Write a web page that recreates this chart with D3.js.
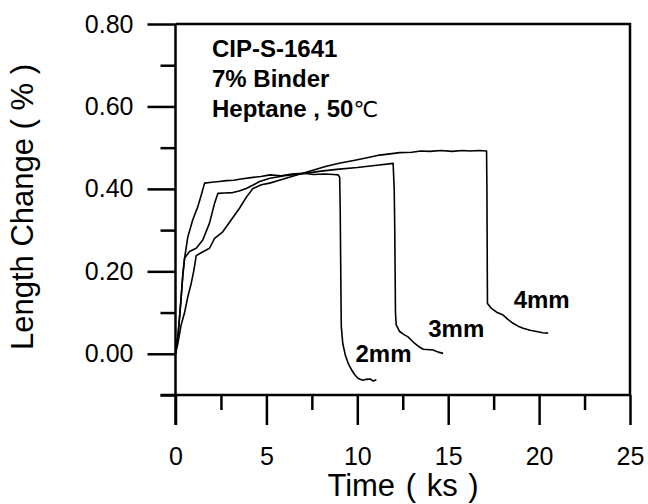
<!DOCTYPE html>
<html>
<head>
<meta charset="utf-8">
<script src="https://cdn.jsdelivr.net/npm/d3@7"></script>
<style>
  html, body { margin: 0; padding: 0; background: #fff; }
  svg { display: block; }
</style>
</head>
<body>
<script>
// ---- data ----
const seriesNames = ["2mm", "3mm", "4mm"];
const time2mm = [0,0.15,0.3,0.4,0.5,0.68,0.95,1.23,1.45,1.6,2.0,2.42,2.8,3.2,3.6,4.26,4.7,5.2,5.8,6.4,7.0,7.6,8.2,8.7,8.95,9.03,9.06,9.08,9.1,9.12,9.2,9.35,9.5,9.7,9.86,10.05,10.3,10.5,10.7,10.87,11.05];
const value2mm = [0,0.05,0.13,0.19,0.232,0.284,0.325,0.357,0.39,0.414,0.416,0.418,0.42,0.421,0.424,0.428,0.43,0.434,0.432,0.436,0.438,0.435,0.436,0.435,0.434,0.428,0.35,0.25,0.15,0.066,0.025,-0.005,-0.023,-0.04,-0.051,-0.06,-0.064,-0.062,-0.061,-0.066,-0.063];
const time3mm = [0,0.15,0.3,0.4,0.5,0.77,1.14,1.5,1.87,2.15,2.33,2.7,3.15,3.5,3.89,4.3,4.63,5.2,6.0,7.0,8.0,9.0,10.0,11.2,11.97,12.03,12.06,12.08,12.1,12.14,12.33,12.55,12.79,13.16,13.4,13.62,14.17,14.45,14.72];
const value3mm = [0,0.05,0.13,0.19,0.232,0.248,0.256,0.276,0.317,0.365,0.389,0.39,0.391,0.395,0.401,0.41,0.418,0.426,0.432,0.437,0.443,0.448,0.452,0.458,0.462,0.4,0.3,0.2,0.1,0.07,0.054,0.047,0.041,0.025,0.017,0.011,0.009,0.004,0.001];
const time4mm = [0,0.13,0.31,0.5,0.68,0.86,1.0,1.14,1.41,1.87,2.15,2.6,3.07,3.52,3.9,4.26,4.72,5.18,5.8,6.4,7.0,7.6,8.3,9.0,9.94,10.6,11.23,11.8,12.33,13.0,13.5,14.0,14.6,15.2,15.8,16.2,16.7,17.11,17.13,17.14,17.15,17.16,17.38,17.7,18.02,18.3,18.57,18.85,19.12,19.5,19.86,20.2,20.5];
const value4mm = [0,0.025,0.07,0.1,0.139,0.17,0.2,0.238,0.245,0.256,0.28,0.296,0.325,0.353,0.38,0.401,0.41,0.414,0.422,0.43,0.438,0.446,0.455,0.462,0.47,0.476,0.482,0.485,0.488,0.489,0.492,0.491,0.493,0.491,0.493,0.492,0.493,0.492,0.4,0.3,0.2,0.122,0.11,0.1,0.094,0.083,0.074,0.067,0.062,0.057,0.054,0.051,0.05];
const labelPos = [[9.9, -0.02], [13.9, 0.04], [18.6, 0.11]]; // label anchor (time, value) for 2mm, 3mm, 4mm
const xTicks = [0, 5, 10, 15, 20, 25];
const xMinorTicks = [2.5, 7.5, 12.5, 17.5, 22.5];
const yTicks = [0.00, 0.20, 0.40, 0.60, 0.80];
const yMinorTicks = [-0.10, 0.10, 0.30, 0.50, 0.70];
const infoLines = ["CIP-S-1641", "7% Binder", "Heptane , 50"];
const xTitle = "Time ( ks )";
const yTitle = "Length Change ( % )";

// ---- chart ----
const W = 648, H = 504;
const mLeft = 175.5, mRight = 630, mTop = 24, mBottom = 395;
const svg = d3.select("body").append("svg").attr("width", W).attr("height", H);
const font = "'Liberation Sans', Arial, Helvetica, sans-serif";

const x = d3.scaleLinear().domain([0, 25]).range([mLeft, mRight]);
const y = d3.scaleLinear().domain([-0.10, 0.80]).range([mBottom, mTop]);

// frame (top + right)
svg.append("path")
  .attr("d", `M${mLeft},${mTop}H${mRight}V${mBottom}`)
  .attr("fill", "none").attr("stroke", "#000").attr("stroke-width", 2.5);

// x axis
const xAxis = d3.axisBottom(x).tickValues(xTicks).tickSize(30).tickPadding(22)
  .tickFormat(d3.format("d"));
const gx = svg.append("g").attr("transform", `translate(0,${mBottom})`).call(xAxis);
gx.select(".domain").attr("stroke-width", 2.5).attr("d", `M${mLeft - 15},0H${mRight}`);
gx.selectAll(".tick line").attr("stroke-width", 2.5);
gx.selectAll(".tick text").attr("font-family", font).attr("font-size", 25).attr("fill", "#000");
const gxm = svg.append("g").attr("transform", `translate(0,${mBottom})`)
  .call(d3.axisBottom(x).tickValues(xMinorTicks).tickSize(15).tickFormat(""));
gxm.select(".domain").remove();
gxm.selectAll(".tick line").attr("stroke-width", 2.5);

// y axis
const yAxis = d3.axisLeft(y).tickValues(yTicks).tickSize(28).tickPadding(14)
  .tickFormat(d3.format(".2f"));
const gy = svg.append("g").attr("transform", `translate(${mLeft},0)`).call(yAxis);
gy.select(".domain").attr("stroke-width", 2.5).attr("d", `M0,${mTop}V${mBottom + 30}`);
gy.selectAll(".tick line").attr("stroke-width", 2.5);
gy.selectAll(".tick text").attr("font-family", font).attr("font-size", 25).attr("fill", "#000");
const gym = svg.append("g").attr("transform", `translate(${mLeft},0)`)
  .call(d3.axisLeft(y).tickValues(yMinorTicks).tickSize(15).tickFormat(""));
gym.select(".domain").remove();
gym.selectAll(".tick line").attr("stroke-width", 2.5);

// axis titles
svg.append("text").attr("x", 403).attr("y", 496)
  .attr("text-anchor", "middle").attr("font-family", font).attr("font-size", 31)
  .attr("word-spacing", 2)
  .text(xTitle);
svg.append("text").attr("transform", `translate(33,207) rotate(-90)`)
  .attr("text-anchor", "middle").attr("font-family", font).attr("font-size", 31)
  .text(yTitle);

// curves
const series = [
  time2mm.map((t, i) => [t, value2mm[i]]),
  time3mm.map((t, i) => [t, value3mm[i]]),
  time4mm.map((t, i) => [t, value4mm[i]])
];
const line = d3.line().x(d => x(d[0])).y(d => y(d[1]));
svg.append("g").selectAll("path").data(series).join("path")
  .attr("d", line).attr("fill", "none").attr("stroke", "#000")
  .attr("stroke-width", 1.6).attr("stroke-linejoin", "round");

// series labels
svg.append("g").selectAll("text").data(seriesNames).join("text")
  .attr("x", (d, i) => x(labelPos[i][0])).attr("y", (d, i) => y(labelPos[i][1]))
  .attr("font-family", font).attr("font-size", 24).attr("font-weight", "bold")
  .text(d => d);

// info block
const info = svg.append("g");
infoLines.forEach((s, i) => {
  const t = info.append("text").attr("x", 212).attr("y", 57 + i * 30)
    .attr("font-family", font).attr("font-size", 24).attr("font-weight", "bold").text(s);
  if (i === 2) {
    t.append("tspan").attr("font-weight", "normal")
      .attr("font-family", "'DejaVu Sans', 'Noto Sans CJK SC', sans-serif")
      .attr("font-size", 22).text("\u2103");
  }
});
</script>
</body>
</html>
